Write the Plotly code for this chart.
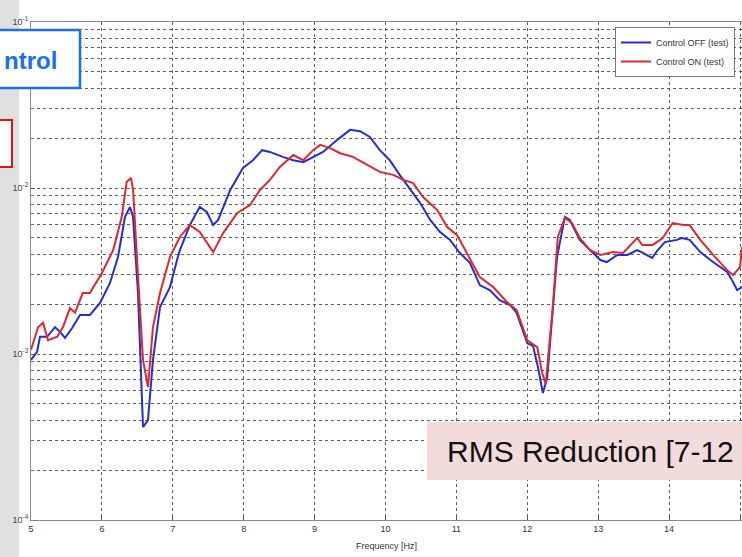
import plotly.graph_objects as go

# ---- data ----
freq_off = [5.0, 5.085, 5.127, 5.226, 5.339, 5.409, 5.48, 5.578, 5.691, 5.832, 5.973, 6.114, 6.227, 6.326,
            6.396, 6.439, 6.509, 6.58, 6.65, 6.72, 6.82, 6.96, 7.06, 7.10, 7.24, 7.38, 7.48, 7.57, 7.64,
            7.81, 7.99, 8.13, 8.26, 8.37, 8.55, 8.70, 8.84, 8.98, 9.12, 9.32, 9.50, 9.64, 9.78, 9.92,
            10.06, 10.20, 10.35, 10.49, 10.63, 10.77, 10.91, 11.05, 11.19, 11.33, 11.47, 11.61, 11.76,
            11.85, 12.0, 12.08, 12.15, 12.22, 12.28, 12.42, 12.53, 12.60, 12.74, 12.88, 13.03, 13.12,
            13.27, 13.41, 13.55, 13.63, 13.76, 13.84, 13.94, 14.11, 14.18, 14.29, 14.44, 14.62, 14.82,
            14.90, 14.96, 15.03]
ctrl_off = [9.2e-4, 1.03e-3, 1.27e-3, 1.27e-3, 1.45e-3, 1.36e-3, 1.25e-3, 1.43e-3, 1.72e-3, 1.72e-3,
            2.03e-3, 2.68e-3, 3.84e-3, 6.7e-3, 7.69e-3, 6.7e-3, 2.33e-3, 3.63e-4, 4.0e-4, 9.19e-4,
            1.92e-3, 2.53e-3, 3.68e-3, 4.23e-3, 5.98e-3, 7.69e-3, 7.17e-3, 5.98e-3, 6.42e-3, 9.73e-3,
            1.32e-2, 1.47e-2, 1.69e-2, 1.65e-2, 1.54e-2, 1.47e-2, 1.43e-2, 1.54e-2, 1.65e-2, 1.95e-2,
            2.24e-2, 2.2e-2, 2.03e-2, 1.69e-2, 1.47e-2, 1.2e-2, 9.73e-3, 8.11e-3, 6.42e-3, 5.43e-3,
            4.87e-3, 4.06e-3, 3.54e-3, 2.6e-3, 2.43e-3, 2.11e-3, 1.97e-3, 1.77e-3, 1.16e-3, 1.12e-3,
            8.35e-4, 5.82e-4, 7.17e-4, 3.84e-3, 6.7e-3, 6.42e-3, 4.87e-3, 4.23e-3, 3.68e-3, 3.58e-3,
            3.95e-3, 3.95e-3, 4.23e-3, 4.06e-3, 3.79e-3, 4.23e-3, 4.72e-3, 4.87e-3, 5.0e-3, 4.87e-3,
            4.11e-3, 3.58e-3, 3.12e-3, 2.72e-3, 2.43e-3, 2.53e-3]

freq_on = [5.0, 5.10, 5.17, 5.24, 5.37, 5.45, 5.55, 5.62, 5.73, 5.83, 6.0, 6.16, 6.28, 6.35, 6.41, 6.44,
           6.51, 6.58, 6.65, 6.72, 6.82, 6.96, 7.10, 7.24, 7.38, 7.57, 7.71, 7.91, 8.09, 8.23, 8.37,
           8.51, 8.70, 8.84, 8.98, 9.08, 9.22, 9.36, 9.54, 9.78, 9.92, 10.11, 10.25, 10.39, 10.53,
           10.73, 10.87, 11.01, 11.15, 11.33, 11.52, 11.71, 11.85, 12.0, 12.14, 12.21, 12.26, 12.36,
           12.43, 12.53, 12.63, 12.74, 12.88, 13.03, 13.21, 13.35, 13.55, 13.62, 13.77, 13.91, 14.05,
           14.20, 14.29, 14.44, 14.62, 14.82, 14.90, 15.0, 15.03]
ctrl_on = [1.06e-3, 1.45e-3, 1.54e-3, 1.21e-3, 1.27e-3, 1.45e-3, 1.89e-3, 1.77e-3, 2.33e-3, 2.33e-3,
           3.08e-3, 4.23e-3, 6.7e-3, 1.09e-2, 1.15e-2, 9.73e-3, 2.91e-3, 9.19e-4, 6.33e-4, 1.45e-3,
           2.33e-3, 3.84e-3, 5.07e-3, 5.98e-3, 5.43e-3, 4.11e-3, 5.35e-3, 7.07e-3, 7.9e-3, 9.73e-3,
           1.12e-2, 1.34e-2, 1.58e-2, 1.47e-2, 1.69e-2, 1.82e-2, 1.74e-2, 1.62e-2, 1.54e-2, 1.34e-2,
           1.25e-2, 1.2e-2, 1.12e-2, 1.07e-2, 8.83e-3, 7.36e-3, 5.82e-3, 5.2e-3, 4.06e-3, 2.91e-3,
           2.53e-3, 2.06e-3, 1.84e-3, 1.21e-3, 1.1e-3, 7.69e-4, 6.6e-4, 1.92e-3, 5.07e-3, 6.6e-3,
           6.15e-3, 5.0e-3, 4.23e-3, 3.95e-3, 4.11e-3, 4.06e-3, 5.0e-3, 4.54e-3, 4.54e-3, 5.0e-3,
           6.15e-3, 5.98e-3, 5.98e-3, 4.87e-3, 3.95e-3, 3.2e-3, 2.99e-3, 3.34e-3, 4.42e-3]

x_ticks = [5, 6, 7, 8, 9, 10, 11, 12, 13, 14, 15]
y_ticks = [1e-4, 1e-3, 1e-2, 1e-1]
y_tick_text = ["10<sup>-4</sup>", "10<sup>-3</sup>", "10<sup>-2</sup>", "10<sup>-1</sup>"]
y_minor = [m * 10.0 ** e for e in (-4, -3, -2) for m in range(2, 10)]

name_off = "Control OFF (test)"
name_on = "Control ON (test)"
x_title = "Frequency [Hz]"

# ---- geometry helpers (pixels -> paper) ----
W, H = 742, 557
L, R, T, B = 31, 0, 22, 37
PW, PH = W - L - R, H - T - B


def px(x):
    return (x - L) / PW


def py(y):
    return (H - B - y) / PH


fig = go.Figure()
fig.add_trace(go.Scatter(x=freq_off, y=ctrl_off, mode="lines", name=name_off,
                         line=dict(color="#1f2ed6", width=2)))
fig.add_trace(go.Scatter(x=freq_on, y=ctrl_on, mode="lines", name=name_on,
                         line=dict(color="#e3262b", width=2)))

grid = dict(gridcolor="#5e5e5e", griddash="dot", gridwidth=1)

fig.update_layout(
    width=W, height=H,
    margin=dict(l=L, r=R, t=T, b=B, autoexpand=False),
    paper_bgcolor="white", plot_bgcolor="white",
    font=dict(family="Liberation Sans, Arial, sans-serif", color="#333"),
    showlegend=True,
    legend=dict(x=px(615), y=py(27), xanchor="left", yanchor="top",
                bgcolor="white", bordercolor="#777", borderwidth=1,
                font=dict(size=9, family="Liberation Sans Narrow, Liberation Sans, Arial", color="#333"),
                itemwidth=30, tracegroupgap=0),
    xaxis=dict(range=[5, 5 + (W - L - R) * 10 / 709], tickvals=x_ticks, ticktext=[str(v) for v in x_ticks],
               ticks="inside", ticklen=4, tickcolor="#555",
               showline=True, linecolor="#888", linewidth=1, mirror=True,
               showgrid=True, **grid, zeroline=False,
               tickfont=dict(size=9, color="#333"),
               title=dict(text=x_title, font=dict(size=9, color="#333"), standoff=9)),
    yaxis=dict(type="log", range=[-4, -1], tickvals=y_ticks, ticktext=y_tick_text,
               ticks="inside", ticklen=4, tickcolor="#555",
               showline=True, linecolor="#888", linewidth=1, mirror=True,
               showgrid=True, **grid, zeroline=False,
               tickfont=dict(size=9, color="#444"),
               minor=dict(tickvals=y_minor, showgrid=True, gridcolor="#5e5e5e", griddash="dot",
                          ticks="inside", ticklen=2, tickcolor="#777")),
)

# ---- overlays from the slide ----
fig.add_shape(type="rect", xref="paper", yref="paper", x0=px(-2), x1=px(19), y0=py(H + 2), y1=py(-2),
              fillcolor="#e0e0e0", line=dict(width=0), layer="below")
fig.add_shape(type="rect", xref="paper", yref="paper", x0=px(-5), x1=px(80), y0=py(88), y1=py(30),
              fillcolor="white", line=dict(color="#1b6ff0", width=2.5), layer="above")
fig.add_shape(type="rect", xref="paper", yref="paper", x0=px(-5), x1=px(12), y0=py(167), y1=py(120),
              fillcolor="white", line=dict(color="#e81010", width=2), layer="above")
fig.add_shape(type="rect", xref="paper", yref="paper", x0=px(427), x1=px(W + 3), y0=py(480), y1=py(422),
              fillcolor="#f2dcdb", line=dict(width=0), layer="above")

fig.add_annotation(xref="paper", yref="paper", x=px(58), y=py(61), xanchor="right", yanchor="middle",
                   text="<b>ntrol</b>", showarrow=False, borderpad=0,
                   font=dict(size=24, color="#1b6ff0", family="Liberation Sans, Arial"))
fig.add_annotation(xref="paper", yref="paper", x=px(445), y=py(451), xanchor="left", yanchor="middle",
                   text="RMS Reduction [7-12", showarrow=False,
                   font=dict(size=30, color="#111", family="Liberation Sans, Arial"))

fig.write_html("out.html")
